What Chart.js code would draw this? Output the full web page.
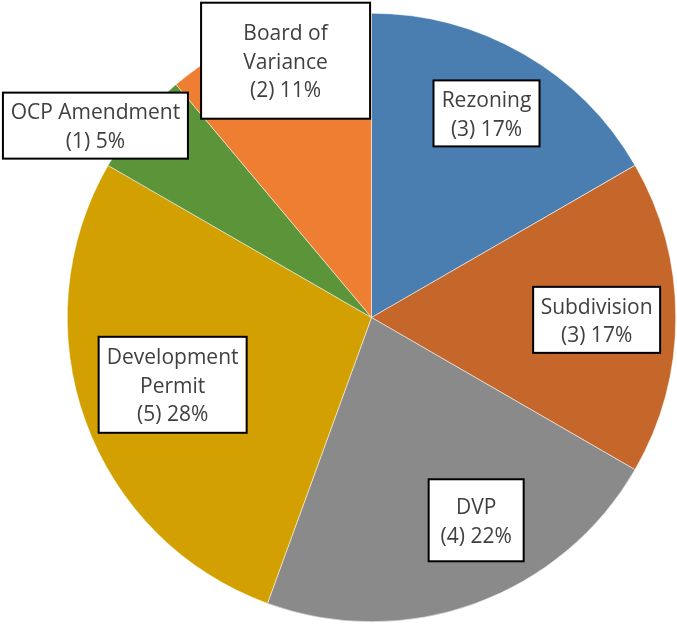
<!DOCTYPE html>
<html>
<head>
<meta charset="utf-8">
<script src="https://cdn.jsdelivr.net/npm/chart.js"></script>
<style>
  html, body { margin: 0; padding: 0; background: #fff; }
  canvas { display: block; }
</style>
</head>
<body>
<canvas id="pieChart" width="677" height="625"></canvas>
<script>
// categories (multi-line where the label box wraps)
const categories = ['Rezoning', 'Subdivision', 'DVP', ['Development', 'Permit'], 'OCP Amendment', ['Board of', 'Variance']];
// number of applications per category
const counts = [3, 3, 4, 5, 1, 2];
// percentages as printed on the chart
const percents = [17, 17, 22, 28, 5, 11];
const sliceColors = ['#4a7eb0', '#c5662a', '#8a8a8a', '#d2a000', '#5b9439', '#ee7e32'];

// label box placement: radius fraction, angle nudge (deg), box width, box height
const labelBoxes = [
    { r: 0.77, a: -0.6, w: 106, h: 66 },
    { r: 0.74, a: 0.6, w: 127, h: 66 },
    { r: 0.75, a: -7.3, w: 95, h: 82 },
    { r: 0.69, a: 1.3, w: 148, h: 96 },
    { r: 1.105, a: -5.2, w: 185, h: 66 },
    { r: 0.89, a: 1.5, w: 169, h: 116 },
];

// データラベル（白い箱）を描くプラグイン
const boxLabels = {
    id: 'boxLabels',
    afterDatasetsDraw(chart) {
        const ctx = chart.ctx;
        const meta = chart.getDatasetMeta(0);
        ctx.save();
        ctx.font = '21px "Open Sans", sans-serif';
        ctx.textAlign = 'center';
        ctx.textBaseline = 'middle';
        meta.data.forEach((arc, i) => {
            const p = arc.getProps(['x', 'y', 'startAngle', 'endAngle', 'outerRadius'], true);
            const box = labelBoxes[i];
            const mid = (p.startAngle + p.endAngle) / 2 + box.a * Math.PI / 180;
            const cx = p.x + Math.cos(mid) * p.outerRadius * box.r;
            const cy = p.y + Math.sin(mid) * p.outerRadius * box.r;

            ctx.fillStyle = '#ffffff';
            ctx.fillRect(cx - box.w / 2, cy - box.h / 2, box.w, box.h);
            ctx.strokeStyle = '#000000';
            ctx.lineWidth = 2;
            ctx.strokeRect(cx - box.w / 2, cy - box.h / 2, box.w, box.h);

            const name = chart.data.labels[i];
            const lines = (Array.isArray(name) ? name.slice() : [name]);
            lines.push('(' + counts[i] + ') ' + percents[i] + '%');
            const lineH = 28.5;
            const top = cy + 2 - (lines.length - 1) * lineH / 2;
            ctx.fillStyle = '#404040';
            lines.forEach((t, k) => ctx.fillText(t, cx, top + k * lineH));
        });
        ctx.restore();
    }
};

const ctx = document.getElementById('pieChart').getContext('2d');
new Chart(ctx, {
    type: 'pie',
    data: {
        labels: categories,
        datasets: [{
            data: counts,
            backgroundColor: sliceColors,
            borderColor: '#ffffff',
            borderWidth: 0.5,
        }]
    },
    options: {
        responsive: false,
        animation: false,
        layout: { padding: { left: 67, right: 1, top: 13, bottom: 3 } },
        plugins: {
            legend: { display: false },
            tooltip: { enabled: false },
        }
    },
    plugins: [boxLabels]
});
</script>
</body>
</html>
